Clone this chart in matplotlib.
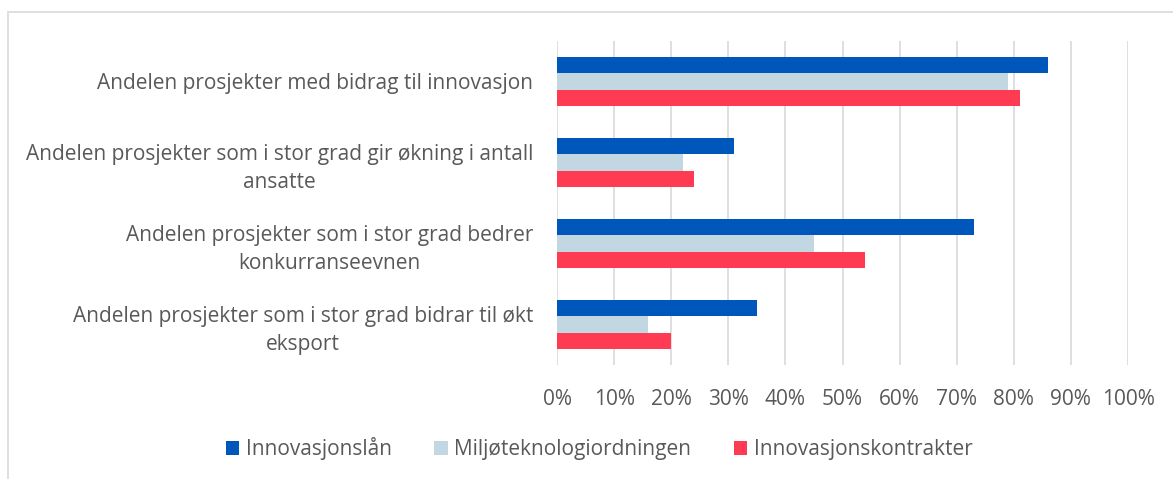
import numpy as np
import matplotlib
matplotlib.use("Agg")
import matplotlib.pyplot as plt
from matplotlib.patches import Rectangle

#--- Données ---
kategorier = [
    "Andelen prosjekter med bidrag til innovasjon",
    "Andelen prosjekter som i stor grad gir økning i antall\nansatte",
    "Andelen prosjekter som i stor grad bedrer\nkonkurranseevnen",
    "Andelen prosjekter som i stor grad bidrar til økt\neksport",
]
serier = ["Innovasjonslån", "Miljøteknologiordningen", "Innovasjonskontrakter"]
innovasjonslan = [86, 31, 73, 35]
miljoteknologi = [79, 22, 45, 16]
innovasjonskontrakter = [81, 24, 54, 20]
x_ticks = [0, 10, 20, 30, 40, 50, 60, 70, 80, 90, 100]

farger = ["#0057BB", "#C3D7E3", "#FF3B54"]
tekstfarge = "#595959"

plt.rcParams['font.family'] = ['Open Sans', 'DejaVu Sans']

W, H = 1173, 479
fig = plt.figure(figsize=(W / 100, H / 100), dpi=100)

# ramme rundt diagrammet
fig.patches.append(Rectangle((7.5 / W, -0.1), 1.2, 1 - 11.5 / H + 0.1,
                             transform=fig.transFigure, fill=False,
                             edgecolor="#D9D9D9", linewidth=1.2))

ax = fig.add_axes([557 / W, 1 - 365 / H, (1128 - 557) / W, (365 - 41) / H])

y = np.arange(len(kategorier))
h = 0.2
for k, (verdier, farge) in enumerate(zip([innovasjonslan, miljoteknologi, innovasjonskontrakter], farger)):
    ax.barh(y + (k - 1) * h, verdier, height=h, color=farge, label=serier[k], zorder=3)

ax.set_ylim(len(kategorier) - 0.5, -0.5)
ax.set_xlim(0, 100)
ax.set_xticks(x_ticks)
ax.set_xticklabels([f"{v}%" for v in x_ticks])
ax.set_yticks(y)
ax.set_yticklabels(kategorier, multialignment="center", linespacing=1.45)
ax.grid(axis="x", color="#D9D9D9", linewidth=1.2, zorder=0)
for s in ax.spines.values():
    s.set_visible(False)
ax.tick_params(axis="both", length=0, labelsize=15, labelcolor=tekstfarge)
ax.tick_params(axis="y", pad=17)
ax.tick_params(axis="x", pad=17)

ax.legend(loc="center", bbox_to_anchor=(599 / W, 1 - 449 / H), bbox_transform=fig.transFigure,
          ncol=3, frameon=False, fontsize=15, labelcolor=tekstfarge,
          handlelength=0.65, handleheight=0.65, handletextpad=0.3, columnspacing=2.05)

fig.savefig("out.png", dpi=100)
